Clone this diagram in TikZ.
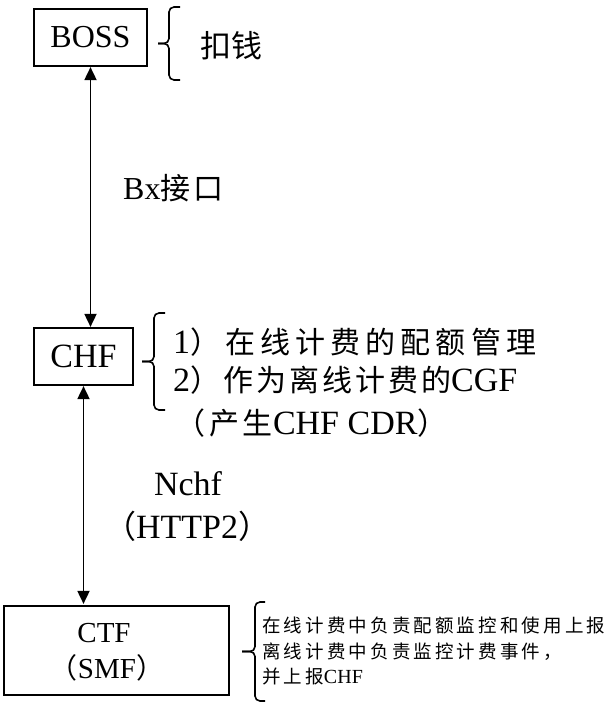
\documentclass[tikz,border=0pt]{standalone}
\usepackage{fontspec}
\setmainfont{Liberation Serif}
\newfontfamily\cjk{Noto Sans CJK SC}
\usetikzlibrary{arrows.meta}
% CJK text: [letter space]{size}{text}
\newcommand{\zh}[3][0]{{\cjk\fontsize{#2}{#2}\selectfont\addfontfeature{LetterSpace=#1}#3}}

\begin{document}
\begin{tikzpicture}[x=1pt, y=-1pt,
    box/.style={draw, line width=2.2pt, inner sep=0pt},
    big/.style={font=\fontsize{34}{38}\selectfont},
    small/.style={font=\fontsize{20}{24}\selectfont},
    txt/.style={inner sep=0pt, anchor=base west},
    link/.style={{Triangle[length=13pt,width=12pt]}-{Triangle[length=13pt,width=12pt]}, line width=1.8pt},
    curly/.style={line width=1.6pt, rounded corners=5pt}]
    \useasboundingbox (0,0) rectangle (614,711);

    % 网元
    \node[box, font=\fontsize{32}{36}\selectfont, minimum width=113pt, minimum height=57pt] (boss) at (90.5,37.5) {BOSS};
    \node[box, big, minimum width=99pt, minimum height=57pt] (chf) at (83.5,356.5) {CHF};
    \node[box, minimum width=225pt, minimum height=89pt] (ctf) at (116.5,650.5) {};
    \node[inner sep=0pt, anchor=base, font=\fontsize{29}{29}\selectfont] (ctfname) at (104,642) {CTF};
    \node[inner sep=0pt, anchor=base, font=\fontsize{29}{29}\selectfont] (smf) at (107,678) {\zh{28}{（}SMF\zh{28}{）}};

    % 接口
    \draw[link] (boss.south) -- (boss.south |- chf.north);
    \draw[link, shorten >=1pt] (chf.south) -- (chf.south |- ctf.north);
    \node[txt, font=\fontsize{32}{36}\selectfont] (bx) at (123,200) {Bx\zh[10]{30}{接口}};
    \node[inner sep=0pt, anchor=base, big] (nchf) at (188,495) {Nchf};
    \node[inner sep=0pt, anchor=base, big] (http) at (187,538) {\zh{32}{（}HTTP2\zh{32}{）}};

    % 大括号
    \foreach \xe/\xv/\xt/\ya/\ym/\yb in {180/169/158/7/43.5/80, 165/154/142/313/361.5/410, 265/255/242/602/651.5/701} {
        \draw[curly] (\xe,\ya) -- (\xv,\ya) -- (\xv,\ym) -- (\xt,\ym);
        \draw[curly] (\xe,\yb) -- (\xv,\yb) -- (\xv,\ym) -- (\xt,\ym);
    }

    % 说明
    \node[txt] (kou) at (200,58) {\zh{31}{扣钱}};
    \node[txt, big] (quota) at (173,353) {1\zh[17]{30}{）在线计费的配额管理}};
    \node[txt, big] (cgf) at (173,391) {2\zh[10]{30}{）作为离线计费的}CGF};
    \node[txt, big] (cdr) at (175,434) {\zh[13]{30}{（产生}CHF CDR\zh{30}{）}};
    \node[txt, small] (note1) at (262,632) {\zh[17]{18.5}{在线计费中负责配额监控和使用上报}};
    \node[txt, small] (note2) at (262,658) {\zh[17]{18.5}{离线计费中负责监控计费事件，}};
    \node[txt, small] (note3) at (262,683) {\zh[17]{18.5}{并上报}CHF};
\end{tikzpicture}
\end{document}
